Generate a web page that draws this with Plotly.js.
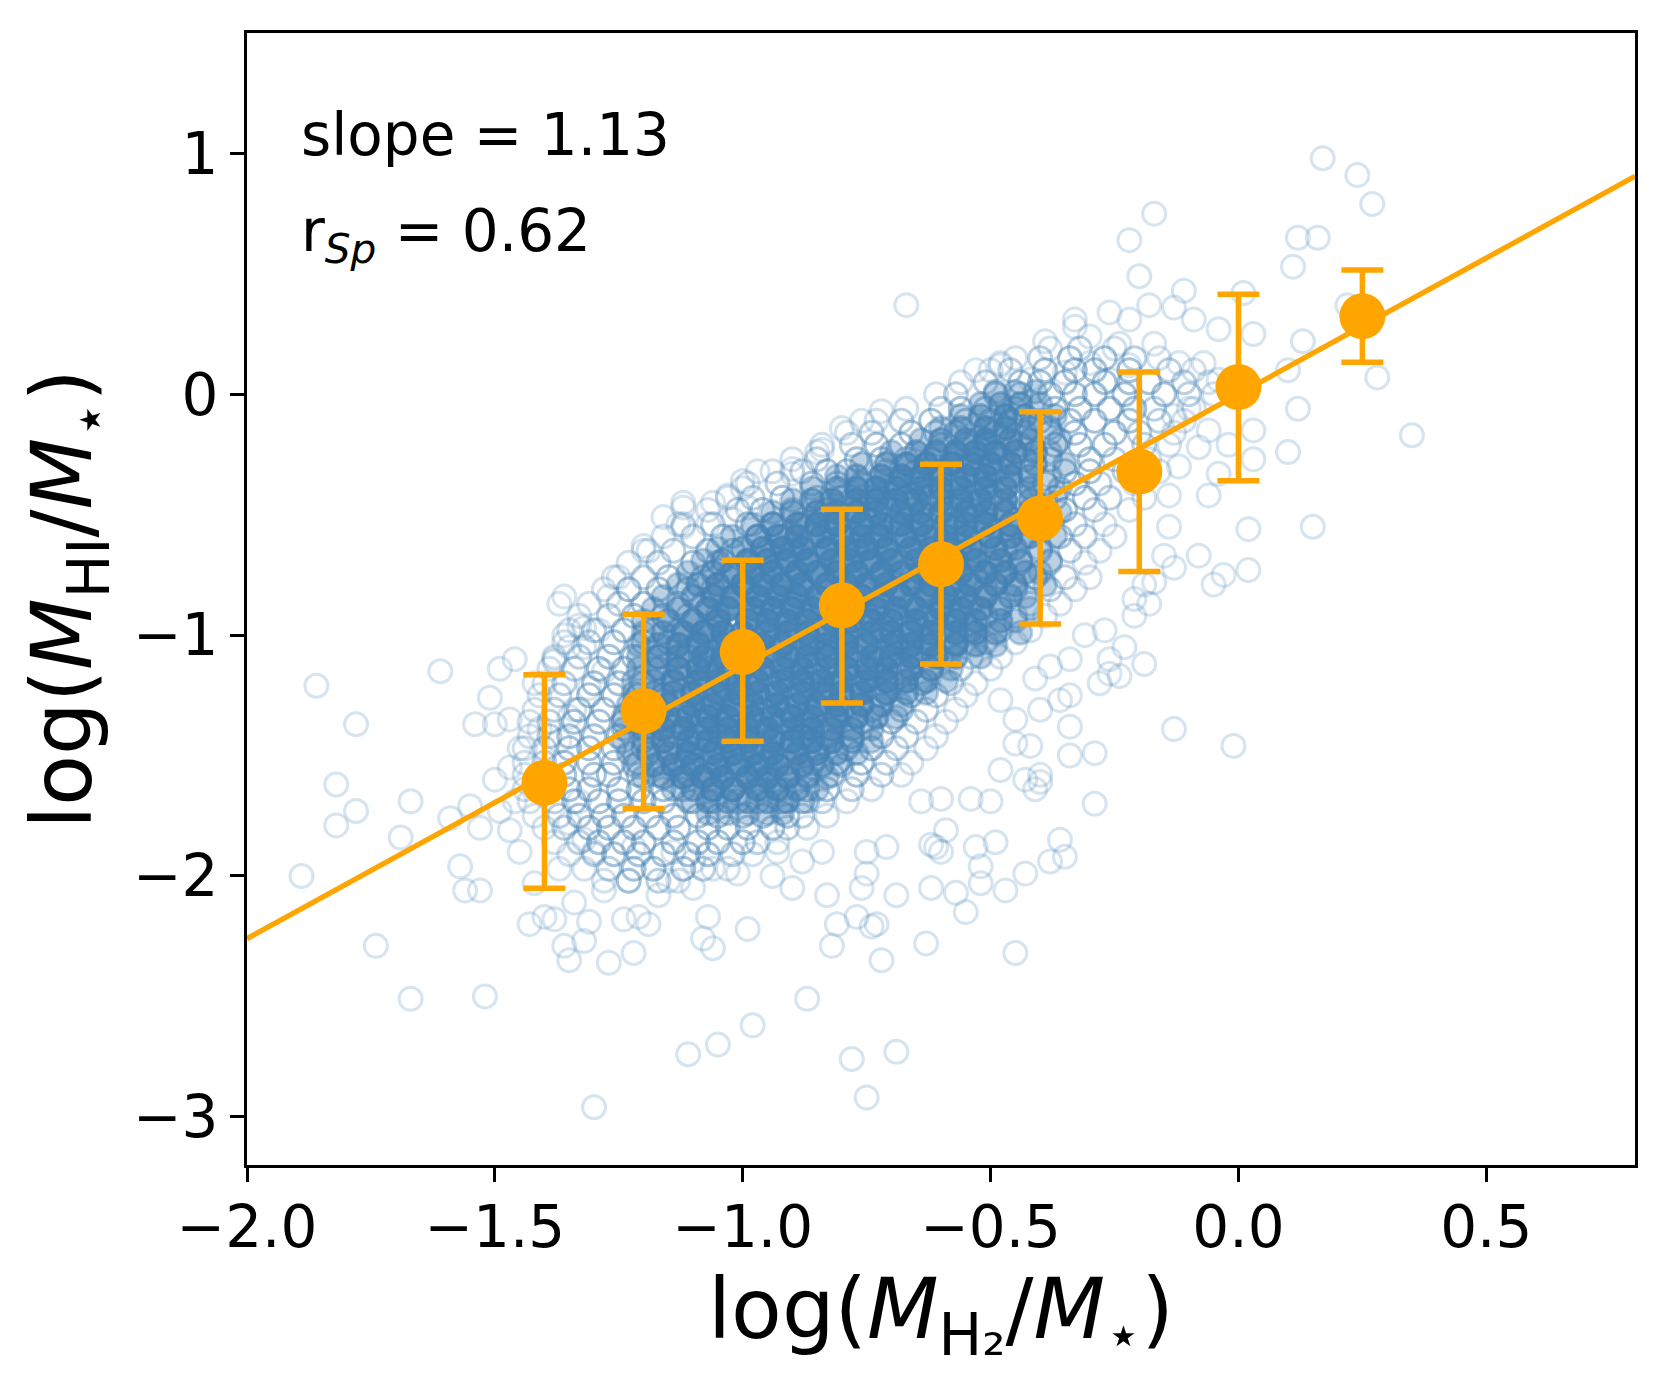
<!DOCTYPE html>
<html>
<head>
<meta charset="utf-8">
<script src="https://cdn.plot.ly/plotly-3.0.1.min.js"></script>
<style>
  html, body { margin: 0; padding: 0; background: #ffffff; }
  #chart { width: 1675px; height: 1390px; }
</style>
</head>
<body>
<div id="chart"></div>
<script>
// ---------------- DATA ----------------

// Binned medians (orange) and the ends of their error bars
const binX      = [-1.4, -1.2, -1.0, -0.8, -0.6, -0.4, -0.2, 0.0, 0.25];
const binY      = [-1.613, -1.315, -1.070, -0.877, -0.706, -0.516, -0.321, 0.030, 0.324];
const binTop    = [-1.165, -0.913, -0.689, -0.477, -0.291, -0.073, 0.093, 0.415, 0.516];
const binBottom = [-2.051, -1.720, -1.441, -1.282, -1.120, -0.954, -0.736, -0.359, 0.133];

// Fitted relation (orange line), end points read at the frame edges
const fitX = [-2.0, 0.8];
const fitY = [-2.26, 0.905];

// Annotation values
const slopeText = "slope = 1.13";
const rspText = "r<sub><i>Sp</i></sub> = 0.62";

// Tick labels
const xTickVals = [-2.0, -1.5, -1.0, -0.5, 0.0, 0.5];
const xTickText = ["\u22122.0", "\u22121.5", "\u22121.0", "\u22120.5", "0.0", "0.5"];
const yTickVals = [-3, -2, -1, 0, 1];
const yTickText = ["\u22123", "\u22122", "\u22121", "0", "1"];

// Individually visible galaxies (flat list: x, y, x, y, ...)
const sparsePts = [
 -1.86,-1.21, -1.78,-1.37, -1.61,-1.15, -1.82,-1.62, -1.78,-1.73, -1.82,-1.79, -1.67,-1.69, -1.69,-1.84,
 -1.89,-2.00, -1.74,-2.29, -1.67,-2.51, -1.52,-2.50, -1.59,-1.76, -1.55,-1.71, -1.57,-1.96, -1.56,-2.06,
 -1.53,-2.06, -1.53,-1.80, -1.50,-1.60, -1.54,-1.37, -1.50,-1.37, -1.47,-1.35, -1.51,-1.26, -1.49,-1.14,
 -1.46,-1.10, -1.47,-1.81, -1.45,-1.90, -1.42,-2.03, -1.43,-2.20, -1.40,-2.17, -1.38,-2.18, -1.36,-2.29,
 -1.35,-2.35, -1.32,-2.27, -1.27,-2.36, -1.22,-2.32, -1.30,-2.96, -1.11,-2.74, -1.05,-2.70, -0.98,-2.62,
 -0.87,-2.51, -0.99,-2.22, -0.78,-2.76, -0.69,-2.73, -0.75,-2.92, -1.06,-2.30, -1.08,-2.26, -0.82,-2.29,
 -0.72,-2.35, -0.63,-2.28, -0.83,-2.08, -0.81,-2.20, -0.77,-2.17, -0.73,-2.20, -0.69,-2.08, -0.90,-2.05,
 -0.94,-2.00, -1.01,-1.99, -1.06,-1.97, -1.07,-2.17, -1.21,-2.17, -1.19,-2.20, -1.24,-2.18, -1.31,-2.19,
 -1.37,-1.97, -1.34,-2.11, -1.28,-2.06, -1.23,-2.02, -1.17,-2.08, -1.15,-2.02, -1.10,-2.05, -0.61,-1.88,
 -0.62,-2.05, -0.71,-1.88, -0.75,-1.90, -0.88,-1.94, -0.84,-1.90, -0.93,-1.90, -1.10,-1.94, -1.14,-1.90,
 -1.22,-1.88, -1.30,-1.90, -1.32,-1.85, -1.35,-1.78, -1.33,-1.69, -1.37,-1.44, -1.41,-1.39, -1.42,-1.20,
 -1.38,-1.10, -1.37,-0.87, -1.36,-1.00, -1.33,-0.96, -1.29,-0.98, -1.32,-1.05, -1.28,-1.15, -1.31,-1.22,
 -1.34,-1.31, -1.35,-1.34, -1.45,-1.47, -1.47,-1.55, -1.46,-1.69, -1.49,-1.73,
 -1.38,-1.11, -1.25,-0.76, -1.23,-0.81, -1.20,-0.65, -1.16,-0.51, -1.12,-0.47, -1.12,-0.55, -1.06,-0.45,
 -1.07,-0.54, -1.00,-0.39, -0.97,-0.32, -0.90,-0.33, -0.85,-0.24, -1.02,-0.52, -0.99,-0.47, -0.67,0.37,
 -0.53,0.10, -0.48,0.13, -0.72,-0.07, -0.76,-0.11, -0.80,-0.14, -0.84,-0.23, -0.90,-0.31, -1.00,-0.36,
 -1.03,-0.42, -1.12,-0.45, -1.13,-0.54, -1.20,-0.63, -1.27,-0.84, -1.36,-0.84, -1.32,-0.97, -1.35,-1.05,
 -0.33,0.31, -0.39,0.22, -0.26,0.34,
 0.17,0.98, 0.24,0.91, 0.27,0.79, -0.17,0.75, -0.22,0.64, -0.20,0.49, 0.12,0.65, 0.16,0.65,
 0.11,0.53, 0.22,0.37, 0.28,0.07, 0.35,-0.17, 0.12,-0.06, 0.10,-0.24, 0.15,-0.55, 0.02,-0.56,
 0.02,-0.73, -0.03,-0.75, -0.05,-0.79, -0.06,-0.42, 0.13,0.22, 0.10,0.10, -0.08,-0.67, -0.11,0.43,
 -0.18,0.37, -0.33,0.28, -0.48,0.12, -0.22,0.31, -0.13,0.36, -0.09,0.31, -0.04,0.27, 0.01,0.42,
 0.03,0.25, 0.03,-0.15, 0.03,-0.27, -0.02,-0.21, -0.04,-0.33, -0.08,-0.22, -0.10,-0.06, -0.06,-0.15,
 -0.13,-0.09, -0.12,-0.30, -0.14,-0.42, -0.14,-0.55, -0.13,-0.72, -0.15,-0.67, -0.19,-0.79, -0.21,-0.85,
 -0.17,-0.78, -0.07,0.13, -0.04,0.06, -0.12,0.13, -0.17,0.21, -0.24,0.21, -0.30,0.24, -0.30,0.13,
 -0.35,0.09, -0.42,0.06, -0.22,0.12, -0.26,0.06,
 -0.01,-1.46, -0.13,-1.39, -0.19,-1.12, -0.34,-1.38, -0.29,-1.49, -0.29,-1.70, -0.40,-1.61, -0.26,-1.10,
 -0.24,-1.17, -0.28,-1.20, -0.34,-1.50, -0.23,-1.05, -0.26,-1.16, -0.36,-1.85, -0.35,-1.92, -0.38,-1.94,
 -0.43,-1.99, -0.41,-1.64, -0.43,-1.60, -0.40,-1.58, -0.42,-1.46, -0.45,-1.45, -0.48,-1.56, -0.50,-1.69,
 -0.49,-1.86, -0.47,-2.06, -0.52,-1.96, -0.52,-2.03, -0.55,-2.15, -0.57,-2.07, -0.53,-1.88, -0.60,-1.90,
 -0.62,-1.87, -0.59,-1.81, -0.75,-1.99, -0.76,-2.05, -0.74,-2.21, -0.45,-2.32, -0.54,-1.68, -0.60,-1.68,
 -0.64,-1.69, -0.48,-1.27, -0.41,-1.18, -0.38,-1.13, -0.34,-1.25, -0.36,-1.27, -0.40,-1.31, -0.45,-1.35,
 -0.21,-0.92, -0.18,-0.87, -0.27,-0.98, -0.31,-1.00, -0.34,-1.10
];

// Moderately crowded part of the cloud: each row is [y, x1, x2, ...]
const midRows = [
 [0.19, -0.38,-0.32,-0.25],
 [0.15, -0.45,-0.40,-0.34,-0.27,-0.21,-0.16],
 [0.10, -0.50,-0.46,-0.39,-0.33,-0.29,-0.22,-0.14,-0.09],
 [0.05, -0.56,-0.51,-0.44,-0.40,-0.35,-0.27,-0.22,-0.18,-0.11,-0.06],
 [0.00, -0.61,-0.57,-0.49,-0.44,-0.38,-0.33,-0.29,-0.23,-0.15,-0.10,-0.05],
 [-0.06, -0.67,-0.60,-0.56,-0.51,-0.45,-0.37,-0.32,-0.26,-0.21,-0.17,-0.09],
 [-0.11, -0.73,-0.68,-0.62,-0.55,-0.50,-0.46,-0.40,-0.34,-0.29,-0.22,-0.16,-0.11],
 [-0.16, -0.79,-0.74,-0.66,-0.61,-0.57,-0.49,-0.43,-0.38,-0.33,-0.25,-0.20,-0.13],
 [-0.21, -0.84,-0.78,-0.73,-0.68,-0.60,-0.55,-0.51,-0.44,-0.37,-0.32,-0.27,-0.19,-0.14],
 [-0.27, -0.90,-0.85,-0.77,-0.72,-0.67,-0.62,-0.54,-0.48,-0.43,-0.38,-0.30,-0.25,-0.18],
 [-0.32, -0.94,-0.88,-0.83,-0.79,-0.71,-0.65,-0.60,-0.53,-0.49,-0.42,-0.35,-0.30,-0.23,-0.16],
 [-0.37, -0.99,-0.93,-0.86,-0.81,-0.76,-0.69,-0.64,-0.57,-0.51,-0.46,-0.39,-0.33,-0.28,-0.21],
 [-0.43, -1.03,-0.98,-0.92,-0.85,-0.80,-0.74,-0.67,-0.62,-0.56,-0.50,-0.44,-0.37,-0.31,-0.26,-0.19],
 [-0.48, -1.07,-1.01,-0.96,-0.90,-0.83,-0.78,-0.71,-0.66,-0.59,-0.54,-0.47,-0.42,-0.35,-0.29,-0.22],
 [-0.54, -1.12,-1.06,-0.99,-0.94,-0.88,-0.81,-0.76,-0.69,-0.64,-0.57,-0.51,-0.46,-0.39,-0.33,-0.27],
 [-0.59, -1.16,-1.10,-1.04,-0.97,-0.92,-0.86,-0.79,-0.73,-0.68,-0.61,-0.55,-0.50,-0.43,-0.36,-0.31,-0.25],
 [-0.65, -1.19,-1.14,-1.07,-1.02,-0.95,-0.90,-0.83,-0.77,-0.71,-0.65,-0.58,-0.53,-0.47,-0.40,-0.34,-0.28],
 [-0.70, -1.23,-1.17,-1.10,-1.05,-0.99,-0.92,-0.87,-0.80,-0.75,-0.68,-0.62,-0.57,-0.50,-0.44,-0.38,-0.31],
 [-0.76, -1.26,-1.20,-1.15,-1.08,-1.03,-0.96,-0.90,-0.84,-0.78,-0.72,-0.66,-0.60,-0.53,-0.48,-0.41,-0.35,-0.30],
 [-0.81, -1.28,-1.23,-1.17,-1.11,-1.06,-0.99,-0.93,-0.88,-0.81,-0.75,-0.69,-0.63,-0.57,-0.51,-0.45,-0.38,-0.33],
 [-0.87, -1.31,-1.25,-1.20,-1.13,-1.08,-1.02,-0.96,-0.90,-0.84,-0.78,-0.72,-0.66,-0.60,-0.54,-0.48,-0.42,-0.36],
 [-0.92, -1.33,-1.27,-1.22,-1.16,-1.11,-1.05,-0.98,-0.93,-0.87,-0.81,-0.75,-0.69,-0.63,-0.57,-0.51,-0.45,-0.39],
 [-0.98, -1.35,-1.30,-1.24,-1.18,-1.13,-1.07,-1.01,-0.95,-0.89,-0.84,-0.78,-0.72,-0.66,-0.60,-0.54,-0.48,-0.42],
 [-1.03, -1.36,-1.31,-1.26,-1.20,-1.15,-1.09,-1.03,-0.98,-0.92,-0.86,-0.80,-0.75,-0.69,-0.63,-0.57,-0.51,-0.45],
 [-1.09, -1.38,-1.33,-1.27,-1.22,-1.17,-1.11,-1.05,-1.00,-0.94,-0.88,-0.83,-0.77,-0.71,-0.65,-0.60,-0.54,-0.48],
 [-1.14, -1.39,-1.34,-1.29,-1.24,-1.18,-1.13,-1.07,-1.02,-0.96,-0.91,-0.85,-0.79,-0.74,-0.68,-0.62,-0.56,-0.50],
 [-1.20, -1.40,-1.36,-1.30,-1.25,-1.20,-1.14,-1.09,-1.04,-0.98,-0.93,-0.87,-0.81,-0.76,-0.70,-0.64,-0.58,-0.53],
 [-1.25, -1.41,-1.37,-1.31,-1.26,-1.21,-1.16,-1.10,-1.05,-1.00,-0.94,-0.89,-0.83,-0.78,-0.72,-0.66,-0.61,-0.55],
 [-1.31, -1.42,-1.38,-1.33,-1.28,-1.22,-1.17,-1.12,-1.07,-1.01,-0.96,-0.91,-0.85,-0.80,-0.74,-0.68,-0.63,-0.57],
 [-1.36, -1.43,-1.39,-1.34,-1.29,-1.24,-1.18,-1.13,-1.08,-1.03,-0.97,-0.92,-0.87,-0.81,-0.76,-0.70,-0.65,-0.59],
 [-1.42, -1.43,-1.39,-1.35,-1.30,-1.25,-1.19,-1.14,-1.09,-1.04,-0.99,-0.94,-0.88,-0.83,-0.78,-0.72,-0.67,-0.61],
 [-1.47, -1.44,-1.40,-1.35,-1.31,-1.26,-1.20,-1.15,-1.10,-1.05,-1.00,-0.95,-0.90,-0.85,-0.79,-0.74,-0.69,-0.63],
 [-1.53, -1.44,-1.40,-1.36,-1.31,-1.26,-1.21,-1.16,-1.11,-1.06,-1.01,-0.96,-0.91,-0.86,-0.81,-0.76,-0.71,-0.66],
 [-1.58, -1.44,-1.39,-1.36,-1.30,-1.27,-1.21,-1.17,-1.11,-1.07,-1.01,-0.97,-0.91,-0.87,-0.82,-0.77,-0.72,-0.68],
 [-1.64, -1.44,-1.40,-1.35,-1.31,-1.25,-1.21,-1.16,-1.12,-1.06,-1.02,-0.96,-0.92,-0.87,-0.83,-0.78,-0.74],
 [-1.69, -1.43,-1.38,-1.34,-1.29,-1.25,-1.20,-1.16,-1.10,-1.06,-1.01,-0.97,-0.92,-0.88,-0.84,-0.79],
 [-1.75, -1.42,-1.37,-1.33,-1.28,-1.24,-1.19,-1.14,-1.09,-1.05,-1.00,-0.96,-0.91,-0.88,-0.83],
 [-1.80, -1.40,-1.36,-1.31,-1.27,-1.22,-1.17,-1.13,-1.07,-1.03,-0.99,-0.94,-0.91,-0.87],
 [-1.86, -1.38,-1.33,-1.29,-1.24,-1.20,-1.14,-1.09,-1.05,-1.00,-0.97,-0.93],
 [-1.91, -1.35,-1.30,-1.26,-1.21,-1.16,-1.11,-1.07,-1.02,-0.98],
 [-1.97, -1.32,-1.27,-1.22,-1.18,-1.12,-1.08,-1.03],
 [-2.02, -1.28,-1.23,-1.17,-1.13]
];

// Most crowded core of the cloud (rings pile up into a solid patch): [y, x1, x2, ...]
const coreRows = [
 [0.01, -0.49,-0.45,-0.41],
 [-0.04, -0.52,-0.48,-0.44,-0.40],
 [-0.09, -0.56,-0.52,-0.47,-0.43,-0.37],
 [-0.14, -0.60,-0.56,-0.51,-0.47,-0.42,-0.38],
 [-0.19, -0.64,-0.60,-0.55,-0.51,-0.46,-0.42,-0.36],
 [-0.24, -0.70,-0.65,-0.61,-0.57,-0.53,-0.49,-0.45,-0.41,-0.38],
 [-0.29, -0.76,-0.71,-0.67,-0.63,-0.58,-0.54,-0.50,-0.46,-0.41,-0.35],
 [-0.34, -0.81,-0.77,-0.72,-0.68,-0.64,-0.60,-0.55,-0.51,-0.46,-0.42,-0.38],
 [-0.39, -0.86,-0.81,-0.77,-0.73,-0.69,-0.64,-0.60,-0.56,-0.51,-0.47,-0.42,-0.36],
 [-0.44, -0.90,-0.86,-0.82,-0.77,-0.73,-0.69,-0.65,-0.60,-0.56,-0.52,-0.47,-0.42,-0.39],
 [-0.49, -0.94,-0.90,-0.85,-0.81,-0.77,-0.73,-0.68,-0.64,-0.60,-0.55,-0.51,-0.47,-0.42,-0.36],
 [-0.54, -0.98,-0.94,-0.89,-0.85,-0.81,-0.76,-0.72,-0.68,-0.64,-0.59,-0.55,-0.51,-0.46,-0.42,-0.39],
 [-0.59, -1.02,-0.97,-0.93,-0.89,-0.84,-0.80,-0.76,-0.72,-0.67,-0.63,-0.59,-0.55,-0.50,-0.46,-0.42,-0.37],
 [-0.64, -1.05,-1.00,-0.96,-0.92,-0.88,-0.83,-0.79,-0.75,-0.71,-0.66,-0.62,-0.58,-0.54,-0.49,-0.45,-0.40],
 [-0.69, -1.08,-1.04,-0.99,-0.95,-0.91,-0.87,-0.82,-0.78,-0.74,-0.70,-0.65,-0.61,-0.57,-0.53,-0.48,-0.44,-0.38],
 [-0.74, -1.11,-1.06,-1.02,-0.98,-0.94,-0.89,-0.85,-0.81,-0.77,-0.72,-0.68,-0.64,-0.60,-0.56,-0.51,-0.47,-0.43,-0.40],
 [-0.79, -1.13,-1.09,-1.05,-1.00,-0.96,-0.92,-0.88,-0.83,-0.79,-0.75,-0.71,-0.66,-0.62,-0.58,-0.54,-0.49,-0.45,-0.39],
 [-0.84, -1.16,-1.10,-1.06,-1.02,-0.97,-0.93,-0.89,-0.85,-0.80,-0.76,-0.72,-0.68,-0.63,-0.59,-0.55,-0.51,-0.46,-0.43],
 [-0.89, -1.18,-1.13,-1.07,-1.03,-0.98,-0.94,-0.90,-0.86,-0.82,-0.77,-0.73,-0.69,-0.65,-0.60,-0.56,-0.52,-0.48,-0.42],
 [-0.94, -1.20,-1.15,-1.10,-1.05,-0.99,-0.95,-0.91,-0.87,-0.82,-0.78,-0.74,-0.70,-0.65,-0.61,-0.57,-0.53,-0.48,-0.45],
 [-0.99, -1.20,-1.16,-1.12,-1.08,-1.04,-1.00,-0.95,-0.91,-0.87,-0.83,-0.79,-0.74,-0.70,-0.66,-0.62,-0.57,-0.53,-0.49,-0.44],
 [-1.04, -1.21,-1.17,-1.13,-1.09,-1.04,-1.00,-0.96,-0.92,-0.87,-0.83,-0.79,-0.75,-0.70,-0.66,-0.62,-0.57,-0.53,-0.49],
 [-1.09, -1.21,-1.17,-1.13,-1.08,-1.04,-1.00,-0.96,-0.91,-0.87,-0.83,-0.79,-0.74,-0.70,-0.66,-0.61,-0.57,-0.52],
 [-1.14, -1.21,-1.17,-1.13,-1.09,-1.05,-1.00,-0.96,-0.92,-0.88,-0.83,-0.79,-0.75,-0.71,-0.66,-0.62,-0.58],
 [-1.19, -1.22,-1.18,-1.14,-1.09,-1.05,-1.01,-0.97,-0.92,-0.88,-0.84,-0.80,-0.75,-0.71,-0.67,-0.63,-0.59],
 [-1.24, -1.22,-1.18,-1.14,-1.10,-1.05,-1.01,-0.97,-0.93,-0.88,-0.84,-0.80,-0.76,-0.71,-0.67,-0.63],
 [-1.29, -1.23,-1.19,-1.15,-1.10,-1.06,-1.02,-0.98,-0.93,-0.89,-0.85,-0.81,-0.76,-0.72,-0.68],
 [-1.34, -1.24,-1.20,-1.15,-1.11,-1.07,-1.03,-0.98,-0.94,-0.90,-0.86,-0.81,-0.77,-0.73,-0.69],
 [-1.39, -1.24,-1.20,-1.16,-1.12,-1.07,-1.03,-0.99,-0.95,-0.90,-0.86,-0.82,-0.78,-0.74],
 [-1.44, -1.24,-1.20,-1.16,-1.11,-1.07,-1.03,-0.99,-0.94,-0.90,-0.86,-0.82,-0.78,-0.74],
 [-1.49, -1.23,-1.19,-1.15,-1.11,-1.06,-1.02,-0.98,-0.94,-0.89,-0.85,-0.81,-0.77],
 [-1.54, -1.22,-1.18,-1.14,-1.10,-1.05,-1.01,-0.97,-0.93,-0.88,-0.84,-0.80],
 [-1.59, -1.20,-1.16,-1.12,-1.08,-1.04,-0.99,-0.95,-0.91,-0.87,-0.83],
 [-1.64, -1.14,-1.10,-1.06,-1.02,-0.97,-0.93,-0.89,-0.85],
 [-1.69, -1.11,-1.07,-1.03,-0.99,-0.95,-0.91,-0.87],
 [-1.74, -1.07,-1.03,-0.99,-0.95,-0.92]
];

// ---------------- helpers ----------------
const BLUE = "70,130,180";
const ORANGE = "#FFA500";
const FONT = "DejaVu Sans, Verdana, sans-serif";

function fromPairs(p) {
  const x = [], y = [];
  for (let i = 0; i < p.length; i += 2) { x.push(p[i]); y.push(p[i + 1]); }
  return { x: x, y: y };
}
// Unpack rows; shade = function(edgeDepth) -> alpha, so the outermost points of a crowded
// patch are drawn lighter (they overlap fewer neighbours in the original scatter).
function fromRows(rows, shade, useRowEdges) {
  const x = [], y = [], c = [];
  const R = rows.length;
  rows.forEach(function (r, ri) {
    const n = r.length - 1;
    for (let i = 1; i < r.length; i++) {
      const k = i - 1;
      let e = Math.min(k, n - 1 - k);
      if (useRowEdges) e = Math.min(e, ri, R - 1 - ri);
      x.push(r[i]); y.push(r[0]);
      c.push("rgba(" + BLUE + "," + shade(e) + ")");
    }
  });
  return { x: x, y: y, c: c };
}

const sparse = fromPairs(sparsePts);
const mid = fromRows(midRows, function (e) { return [0.25, 0.37, 0.48][Math.min(e, 2)]; }, false);
const core = fromRows(coreRows, function (e) { return [0.36, 0.55, 0.72, 0.82][Math.min(e, 3)]; }, true);

const errPlus = binY.map(function (v, i) { return binTop[i] - v; });
const errMinus = binY.map(function (v, i) { return v - binBottom[i]; });

const traces = [
  { type: "scatter", mode: "markers", x: core.x, y: core.y, hoverinfo: "skip",
    marker: { symbol: "circle", size: 23, color: core.c, line: { color: core.c, width: 3 } } },
  { type: "scatter", mode: "markers", x: mid.x, y: mid.y, hoverinfo: "skip",
    marker: { symbol: "circle", size: 23, color: "rgba(0,0,0,0)", line: { color: mid.c, width: 3 } } },
  { type: "scatter", mode: "markers", x: sparse.x, y: sparse.y, hoverinfo: "skip",
    marker: { symbol: "circle", size: 23, color: "rgba(0,0,0,0)",
              line: { color: "rgba(" + BLUE + ",0.22)", width: 3 } } },
  { type: "scatter", mode: "lines", x: fitX, y: fitY, hoverinfo: "skip",
    line: { color: ORANGE, width: 5.3 } },
  { type: "scatter", mode: "markers", x: binX, y: binY, hoverinfo: "skip",
    marker: { symbol: "circle", size: 46, color: ORANGE, line: { width: 0 } },
    error_y: { type: "data", symmetric: false, array: errPlus, arrayminus: errMinus,
               color: ORANGE, thickness: 5.5, width: 21 } }
];

const axisCommon = {
  ticks: "outside", ticklen: 14, tickwidth: 3, tickcolor: "#000",
  showline: true, linewidth: 3, linecolor: "#000", mirror: true,
  showgrid: false, zeroline: false, automargin: true,
  tickfont: { family: FONT, size: 58, color: "#000" }
};

const layout = {
  width: 1675, height: 1390,
  margin: { l: 247, r: 40, t: 33, b: 225, pad: 0, autoexpand: false },
  paper_bgcolor: "#fff", plot_bgcolor: "#fff",
  showlegend: false,
  font: { family: FONT, color: "#000" },
  xaxis: Object.assign({}, axisCommon, {
    range: [-2.0, 0.8], tickmode: "array", tickvals: xTickVals, ticktext: xTickText,
    ticklabelstandoff: -5,
    title: { text: "log(<i>M</i><sub>H\u2082</sub>/<i>M</i><sub>\u22c6</sub>)",
             font: { family: FONT, size: 83, color: "#000" }, standoff: 3 }
  }),
  yaxis: Object.assign({}, axisCommon, {
    range: [-3.2, 1.5], tickmode: "array", tickvals: yTickVals, ticktext: yTickText,
    title: { text: "log(<i>M</i><sub>HI</sub>/<i>M</i><sub>\u22c6</sub>)",
             font: { family: FONT, size: 83, color: "#000" }, standoff: 14 }
  }),
  annotations: [
    { xref: "paper", yref: "paper", x: 0.0375, y: 0.9417, xanchor: "left", yanchor: "top",
      showarrow: false, text: slopeText, font: { family: FONT, size: 58, color: "#000" } },
    { xref: "paper", yref: "paper", x: 0.0375, y: 0.8569, xanchor: "left", yanchor: "top",
      showarrow: false, text: rspText, font: { family: FONT, size: 58, color: "#000" } }
  ]
};

Plotly.newPlot("chart", traces, layout, { staticPlot: true, displayModeBar: false });
</script>
</body>
</html>
